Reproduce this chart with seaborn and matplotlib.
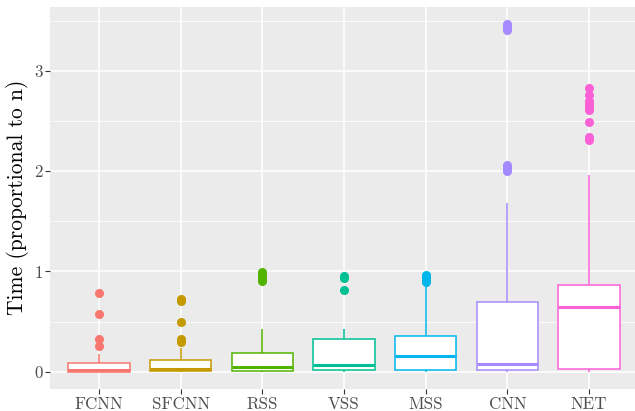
# Boxplots de tempo por método (estilo ggplot)

import pandas as pd
import matplotlib.pyplot as plt
from matplotlib.ticker import FixedLocator
import seaborn as sns

# =========================
# DADOS
# =========================

metodos = ["FCNN", "SFCNN", "RSS", "VSS", "MSS", "CNN", "NET"]
cores = ["#F8766D", "#C49A00", "#53B400", "#00C094", "#00B6EB", "#A58AFF", "#FB61D7"]

tempo_fcnn = [0.0, 0.0, 0.0, 0.0, 0.0, 0.0, 0.005, 0.01, 0.012, 0.016, 0.02,
              0.03, 0.045, 0.06, 0.075, 0.085, 0.18, 0.26, 0.33, 0.58, 0.78]
tempo_sfcnn = [0.0, 0.0, 0.0, 0.002, 0.003, 0.004, 0.005, 0.01, 0.015, 0.02, 0.025,
               0.028, 0.03, 0.045, 0.06, 0.075, 0.09, 0.10, 0.115,
               0.24, 0.30, 0.33, 0.50, 0.70, 0.72]
tempo_rss = [0.0, 0.0, 0.0, 0.0, 0.002, 0.004, 0.005, 0.01, 0.02, 0.03, 0.04,
             0.045, 0.05, 0.07, 0.09, 0.12, 0.15, 0.17, 0.185,
             0.43, 0.90, 0.92, 0.95, 0.97, 0.99]
tempo_vss = [0.0, 0.0, 0.01, 0.015, 0.02, 0.03, 0.05, 0.06, 0.07,
             0.12, 0.20, 0.28, 0.33, 0.43, 0.81, 0.93, 0.95]
tempo_mss = [0.0, 0.0, 0.0, 0.005, 0.01, 0.012, 0.015, 0.04, 0.07, 0.10, 0.12,
             0.14, 0.155, 0.20, 0.24, 0.28, 0.31, 0.34, 0.36,
             0.87, 0.89, 0.91, 0.93, 0.95, 0.96]
tempo_cnn = [0.0, 0.0, 0.0, 0.005, 0.008, 0.01, 0.012, 0.015, 0.018, 0.02,
             0.03, 0.04, 0.05, 0.055, 0.06, 0.065, 0.07, 0.075, 0.08,
             0.12, 0.20, 0.30, 0.40, 0.50, 0.58, 0.63, 0.67, 0.69,
             1.68, 2.00, 2.02, 2.04, 2.06, 3.41, 3.43, 3.45, 3.47]
tempo_net = [0.0, 0.0, 0.002, 0.005, 0.008, 0.01, 0.015, 0.02, 0.025, 0.028, 0.03,
             0.10, 0.20, 0.30, 0.40, 0.45, 0.50, 0.55, 0.60, 0.63, 0.65,
             0.68, 0.70, 0.72, 0.74, 0.76, 0.78, 0.80, 0.82, 0.84, 0.86,
             1.96, 2.31, 2.34, 2.49, 2.61, 2.64, 2.67, 2.70, 2.76, 2.83]

tempos = [tempo_fcnn, tempo_sfcnn, tempo_rss, tempo_vss, tempo_mss, tempo_cnn, tempo_net]

base = pd.concat(
    [pd.DataFrame({"metodo": m, "tempo": t}) for m, t in zip(metodos, tempos)],
    ignore_index=True,
)

# =========================
# ESTILO
# =========================

sns.set_theme(style="darkgrid", rc={
    "axes.facecolor": "#EBEBEB",
    "grid.color": "white",
    "axes.edgecolor": "none",
})
plt.rcParams["font.family"] = ["cmr10", "DejaVu Serif"]
plt.rcParams["axes.formatter.use_mathtext"] = True
plt.rcParams["axes.unicode_minus"] = False

fig, ax = plt.subplots(figsize=(6.35, 4.11), dpi=100)

# =========================
# BOXPLOTS
# =========================

for m, c in zip(metodos, cores):
    sns.boxplot(
        data=base[base["metodo"] == m], x="metodo", y="tempo", order=metodos,
        color="white", linecolor=c, saturation=1, width=0.75, linewidth=1.1,
        showcaps=False, ax=ax,
        medianprops=dict(linewidth=2.2),
        flierprops=dict(marker="o", markerfacecolor=c, markeredgecolor=c, markersize=5.5),
    )

ax.set_xlim(-0.6, 6.6)
ax.set_ylim(-0.1735, 3.6435)
ax.set_yticks([0, 1, 2, 3])
ax.set_yticklabels(["0", "1", "2", "3"])
ax.yaxis.set_minor_locator(FixedLocator([0.5, 1.5, 2.5, 3.5]))
ax.grid(True, which="major", color="white", linewidth=1.1)
ax.grid(True, which="minor", axis="y", color="white", linewidth=0.55)
ax.set_axisbelow(True)
for s in ax.spines.values():
    s.set_visible(False)

ax.tick_params(axis="both", which="major", length=3.5, width=0.8, color="#333333",
               labelcolor="#4D4D4D", labelsize=12.2, pad=1.8)
ax.tick_params(axis="both", which="minor", length=0)
ax.tick_params(axis="x", bottom=True)
ax.tick_params(axis="y", left=True)

ax.set_xlabel("")
ax.set_ylabel("Time (proportional to n)", fontsize=15.5, color="black", labelpad=4)

fig.subplots_adjust(left=0.0787, right=0.0787 + 0.926, top=0.984, bottom=0.0535)
fig.savefig("out.png", dpi=100)
